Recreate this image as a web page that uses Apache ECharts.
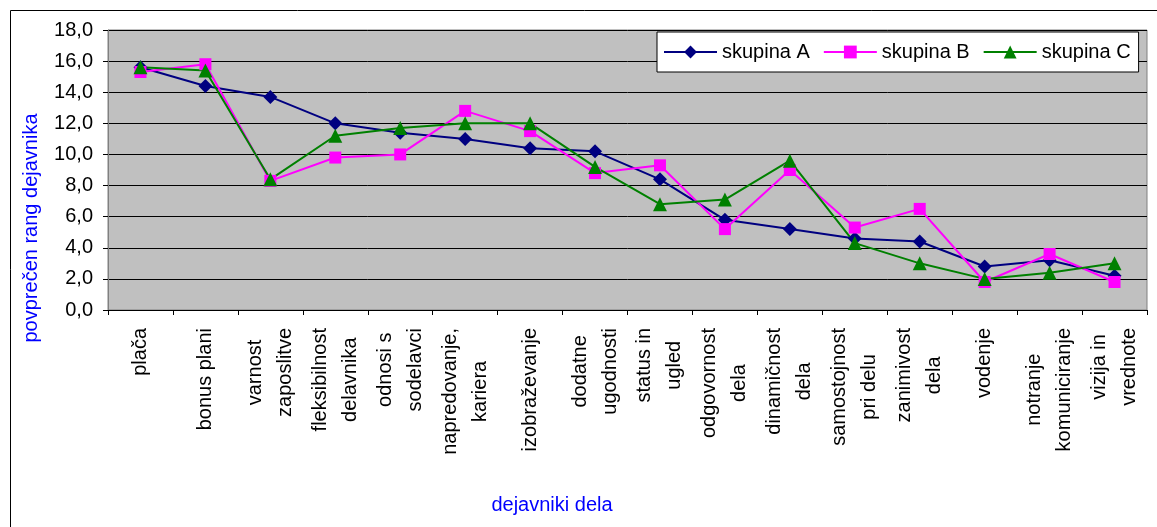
<!DOCTYPE html>
<html>
<head>
<meta charset="utf-8">
<title>dejavniki dela</title>
<script src="https://cdn.jsdelivr.net/npm/echarts@6/dist/echarts.min.js"></script>
<style>
  html, body { margin: 0; padding: 0; background: #fff; }
  #chart { width: 1157px; height: 527px; }
</style>
</head>
<body>
<div id="chart"></div>
<script>
// Work factors (category labels, multi-line)
const categories = [
  'plača',
  'bonus plani',
  'varnost\nzaposlitve',
  'fleksibilnost\ndelavnika',
  'odnosi s\nsodelavci',
  'napredovanje,\nkariera',
  'izobraževanje',
  'dodatne\nugodnosti',
  'status in\nugled',
  'odgovornost\ndela',
  'dinamičnost\ndela',
  'samostojnost\npri delu',
  'zanimivost\ndela',
  'vodenje',
  'notranje\nkomuniciranje',
  'vizija in\nvrednote'
];

// Average rank per group
const skupinaA = [15.6, 14.4, 13.7, 12.0, 11.4, 11.0, 10.4, 10.2, 8.4, 5.8, 5.2, 4.6, 4.4, 2.8, 3.2, 2.2];
const skupinaB = [15.3, 15.8, 8.3, 9.8, 10.0, 12.8, 11.5, 8.8, 9.3, 5.2, 9.0, 5.3, 6.5, 1.8, 3.6, 1.8];
const skupinaC = [15.6, 15.4, 8.4, 11.2, 11.7, 12.0, 12.0, 9.2, 6.8, 7.1, 9.6, 4.3, 3.0, 2.0, 2.4, 3.0];

const seriesNames = ['skupina A', 'skupina B', 'skupina C'];
const yTitle = 'povprečen rang dejavnika';
const xTitle = 'dejavniki dela';

const FONT = '"Liberation Sans", Arial, sans-serif';

const chart = echarts.init(document.getElementById('chart'), null, { renderer: 'canvas' });

function lineSeries(name, data, color, symbol, size) {
  return {
    name: name,
    type: 'line',
    data: data,
    symbol: symbol,
    symbolSize: size,
    showAllSymbol: true,
    lineStyle: { color: color, width: 2 },
    itemStyle: { color: color, borderWidth: 0 },
    emphasis: { disabled: true }
  };
}

chart.setOption({
  animation: false,
  textStyle: { fontFamily: FONT },
  grid: {
    left: 108, top: 30, right: 10, bottom: 217,
    show: true,
    backgroundColor: '#C0C0C0',
    borderColor: '#808080',
    borderWidth: 1
  },
  legend: {
    left: 657, top: 32,
    orient: 'horizontal',
    backgroundColor: '#FFFFFF',
    borderColor: '#000000',
    borderWidth: 1,
    borderRadius: 0,
    padding: [10, 8, 10, 6],
    itemGap: 13,
    itemWidth: 53,
    itemHeight: 16,
    textStyle: { fontSize: 20, color: '#000', fontFamily: FONT },
    data: seriesNames
  },
  xAxis: {
    type: 'category',
    data: categories,
    boundaryGap: true,
    axisLine: { show: true, lineStyle: { color: '#000', width: 1 } },
    axisTick: { show: true, alignWithLabel: false, length: 5, lineStyle: { color: '#000' } },
    splitLine: { show: false },
    axisLabel: {
      interval: 0,
      rotate: 90,
      margin: 18,
      color: '#000',
      fontSize: 20,
      fontFamily: FONT,
      formatter: function (v) {
        return v.split('\n').map(function (s) { return '{c|' + s + '}'; }).join('\n');
      },
      rich: {
        c: { align: 'center', fontSize: 20, lineHeight: 30, color: '#000', fontFamily: FONT }
      }
    }
  },
  yAxis: {
    type: 'value',
    min: 0, max: 18, interval: 2,
    axisLine: { show: true, lineStyle: { color: '#808080', width: 1 } },
    axisTick: { show: true, inside: false, length: 5, lineStyle: { color: '#000' } },
    splitLine: { show: true, lineStyle: { color: '#000', width: 1 } },
    axisLabel: {
      margin: 15,
      color: '#000',
      fontSize: 20,
      fontFamily: FONT,
      formatter: function (v) { return v.toFixed(1).replace('.', ','); }
    }
  },
  graphic: [
    {
      type: 'rect',
      silent: true,
      shape: { x: 10.5, y: 10.5, width: 1160, height: 540 },
      style: { fill: 'none', stroke: '#000', lineWidth: 1 },
      z: -1
    },
    {
      type: 'text',
      silent: true,
      x: 31, y: 228,
      rotation: Math.PI / 2,
      style: {
        text: yTitle,
        fill: '#0000FF',
        font: '20px ' + FONT,
        textAlign: 'center',
        textVerticalAlign: 'middle'
      }
    },
    {
      type: 'text',
      silent: true,
      x: 552, y: 505,
      style: {
        text: xTitle,
        fill: '#0000FF',
        font: '20px ' + FONT,
        textAlign: 'center',
        textVerticalAlign: 'middle'
      }
    }
  ],
  series: [
    lineSeries(seriesNames[0], skupinaA, '#000080', 'diamond', 14),
    lineSeries(seriesNames[1], skupinaB, '#FF00FF', 'rect', 12),
    lineSeries(seriesNames[2], skupinaC, '#008000', 'triangle', 14)
  ]
});
</script>
</body>
</html>
